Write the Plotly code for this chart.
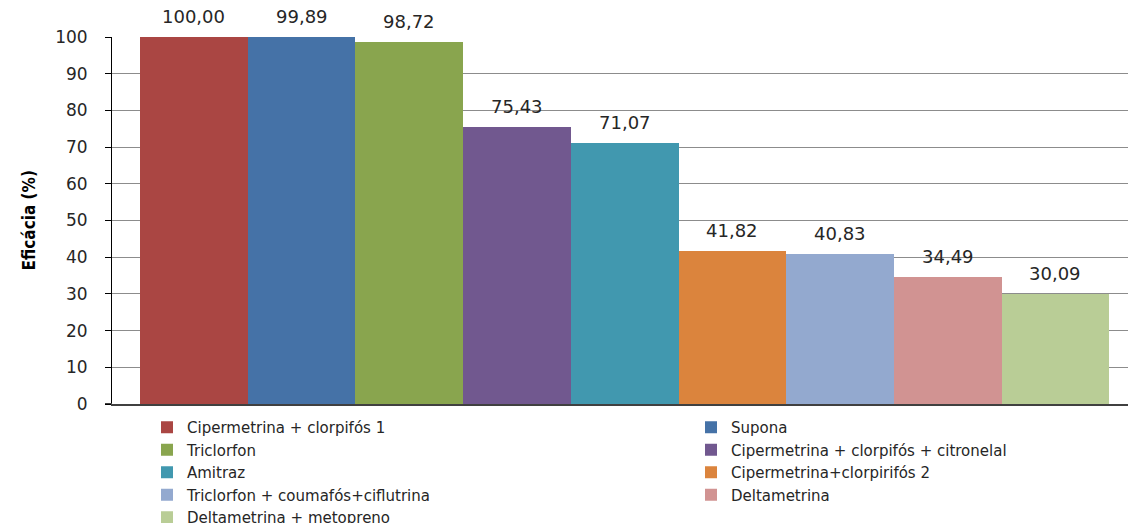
import plotly.graph_objects as go

# Treatments, efficacy values (%) and bar colours
treatments = [
    "Cipermetrina + clorpifós 1",
    "Supona",
    "Triclorfon",
    "Cipermetrina + clorpifós + citronelal",
    "Amitraz",
    "Cipermetrina+clorpirifós 2",
    "Triclorfon + coumafós+ciflutrina",
    "Deltametrina",
    "Deltametrina + metopreno",
]
efficacy = [100.00, 99.89, 98.72, 75.43, 71.07, 41.82, 40.83, 34.49, 30.09]
colors = [
    "#AA4643", "#4572A7", "#89A54E", "#71588F", "#4198AF",
    "#DB843D", "#93A9CF", "#D19392", "#B9CD96",
]
y_ticks = [0, 10, 20, 30, 40, 50, 60, 70, 80, 90, 100]

W, H = 1128, 523
M_L, M_R, M_T, M_B = 112, 0, 37, 119
plot_w = W - M_L - M_R

label_font = dict(family="DejaVu Sans", size=18, color="#262626")
legend_font = dict(family="DejaVu Sans", size=15, color="#262626")

fig = go.Figure()
for i, (name, val, col) in enumerate(zip(treatments, efficacy, colors)):
    # legend entries alternate between a left and a right column
    fig.add_trace(go.Bar(
        x=[i], y=[val], name=name, width=1,
        marker=dict(color=col, line=dict(width=0)),
        legend="legend" if i % 2 == 0 else "legend2",
        hoverinfo="name+y",
    ))
    fig.add_annotation(
        x=i, y=val, xref="x", yref="y",
        text=f"{val:.2f}".replace(".", ","),
        showarrow=False, yanchor="bottom", yshift=8,
        font=label_font,
    )

# category slot width in px, and left padding before first bar
slot_px = 107.7
pad_px = 28
x0 = -0.5 - pad_px / slot_px
x1 = x0 + plot_w / slot_px

fig.add_annotation(
    text="<b>Eficácia (%)</b>", textangle=-90,
    xref="paper", yref="paper", x=0, y=0.5,
    xanchor="center", yanchor="middle", xshift=-(M_L - 28),
    showarrow=False,
    font=dict(family="DejaVu Sans Condensed, DejaVu Sans", size=17, color="#000000"),
)

# short stub of the baseline to the left of the value axis
fig.add_shape(
    type="line", xref="paper", yref="y",
    x0=-7 / plot_w, x1=0, y0=0, y1=0,
    line=dict(color="#404040", width=2),
)

legend_common = dict(
    orientation="v",
    xref="container", yref="container",
    xanchor="left", yanchor="top",
    font=legend_font,
    traceorder="normal",
    bgcolor="rgba(0,0,0,0)",
)

fig.update_layout(
    width=W, height=H,
    margin=dict(l=M_L, r=M_R, t=M_T, b=M_B, pad=0, autoexpand=False),
    paper_bgcolor="white", plot_bgcolor="white",
    showlegend=True,
    bargap=0,
    legend=dict(x=147 / W, y=1 - 411 / H, **legend_common),
    legend2=dict(x=691 / W, y=1 - 411 / H, **legend_common),
    xaxis=dict(
        range=[x0, x1], showticklabels=False, showgrid=False,
        zeroline=False, ticks="", showline=True,
        linecolor="#404040", linewidth=2,
    ),
    yaxis=dict(
        range=[0, 100], tickvals=y_ticks,
        showgrid=True, gridcolor="#8c8c8c", gridwidth=1,
        zeroline=False, showline=True, linecolor="#000000", linewidth=1,
        ticks="outside", ticklen=6, tickcolor="#000000", tickwidth=1,
        ticklabelstandoff=14,
        tickfont=dict(family="DejaVu Sans", size=17, color="#262626"),
    ),
)

fig.write_html("out.html")
